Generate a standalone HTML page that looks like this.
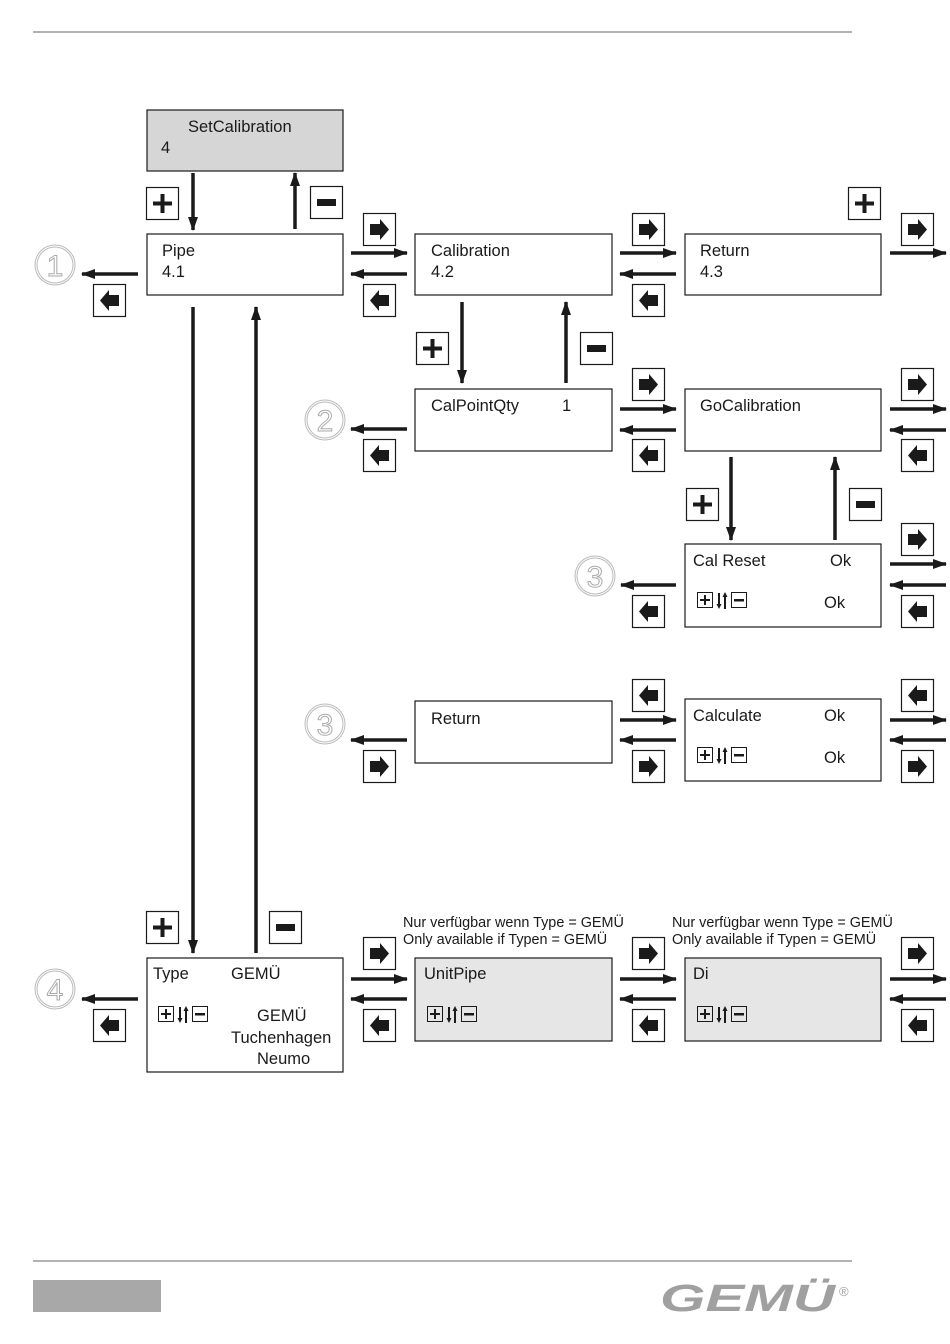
<!DOCTYPE html>
<html><head><meta charset="utf-8"><style>
html,body{margin:0;padding:0;background:#fff}
svg{display:block}
text{font-family:"Liberation Sans",sans-serif;fill:#1a1a1a}
</style></head><body>
<svg width="950" height="1344" viewBox="0 0 950 1344" xmlns="http://www.w3.org/2000/svg">
<defs>
<marker id="ah" markerUnits="userSpaceOnUse" markerWidth="14" markerHeight="10" refX="13" refY="5" orient="auto"><path d="M0,0 L14,5 L0,10 Z" fill="#1a1a1a"/></marker>
<g id="bR"><rect x="0.5" y="0.5" width="32" height="32" fill="#fff" stroke="#1a1a1a" stroke-width="1.2"/><path d="M7,11 H17 V6 L26,16.5 L17,27 V22 H7 Z" fill="#1a1a1a"/></g>
<g id="bL"><rect x="0.5" y="0.5" width="32" height="32" fill="#fff" stroke="#1a1a1a" stroke-width="1.2"/><path d="M26,11 H16 V6 L7,16.5 L16,27 V22 H26 Z" fill="#1a1a1a"/></g>
<g id="bP"><rect x="0.5" y="0.5" width="32" height="32" fill="#fff" stroke="#1a1a1a" stroke-width="1.2"/><path d="M7,14.5 H14.5 V7 H18.5 V14.5 H26 V18.5 H18.5 V26 H14.5 V18.5 H7 Z" fill="#1a1a1a"/></g>
<g id="bM"><rect x="0.5" y="0.5" width="32" height="32" fill="#fff" stroke="#1a1a1a" stroke-width="1.2"/><rect x="7" y="13" width="19" height="7" fill="#1a1a1a"/></g>
<g id="pm"><rect x="0.5" y="0.5" width="15" height="15" fill="none" stroke="#1a1a1a"/><path d="M3,7 H7 V3 H9 V7 H13 V9 H9 V13 H7 V9 H3 Z" fill="#1a1a1a"/>
<line x1="22" y1="1" x2="22" y2="13" stroke="#1a1a1a" stroke-width="2"/><path d="M19.5,12 L22,17 L24.5,12Z" fill="#1a1a1a"/>
<line x1="28" y1="4" x2="28" y2="17" stroke="#1a1a1a" stroke-width="2"/><path d="M25.5,5 L28,0 L30.5,5Z" fill="#1a1a1a"/>
<rect x="34.5" y="0.5" width="15" height="15" fill="none" stroke="#1a1a1a"/><rect x="37" y="7" width="10" height="2.5" fill="#1a1a1a"/></g>
</defs>
<g stroke="#999" stroke-width="1.5"><line x1="33" y1="32" x2="852" y2="32"/><line x1="33" y1="1261" x2="852" y2="1261"/></g>
<rect x="33" y="1280" width="128" height="32" fill="#a8a8a8"/>
<text x="660" y="1311" textLength="175" lengthAdjust="spacingAndGlyphs" style="font-size:38px;font-style:italic;font-weight:bold;fill:#a0a0a0">GEMÜ</text>
<text x="839" y="1296" style="font-size:13px;fill:#a0a0a0">®</text>

<g stroke="#1a1a1a" stroke-width="1.2">
<rect x="147" y="110" width="196" height="61" fill="#d6d6d6"/>
<rect x="147" y="234" width="196" height="61" fill="#fff"/>
<rect x="415" y="234" width="197" height="61" fill="#fff"/>
<rect x="685" y="234" width="196" height="61" fill="#fff"/>
<rect x="415" y="389" width="197" height="62" fill="#fff"/>
<rect x="685" y="389" width="196" height="62" fill="#fff"/>
<rect x="685" y="544" width="196" height="83" fill="#fff"/>
<rect x="415" y="701" width="197" height="62" fill="#fff"/>
<rect x="685" y="699" width="196" height="82" fill="#fff"/>
<rect x="147" y="958" width="196" height="114" fill="#fff"/>
<rect x="415" y="958" width="197" height="83" fill="#e6e6e6"/>
<rect x="685" y="958" width="196" height="83" fill="#e6e6e6"/>
</g>

<g style="font-size:16.5px">
<text x="188" y="132">SetCalibration</text><text x="161" y="153">4</text>
<text x="162" y="256">Pipe</text><text x="162" y="277">4.1</text>
<text x="431" y="256">Calibration</text><text x="431" y="277">4.2</text>
<text x="700" y="256">Return</text><text x="700" y="277">4.3</text>
<text x="431" y="411">CalPointQty</text><text x="562" y="411">1</text>
<text x="700" y="411">GoCalibration</text>
<text x="693" y="566">Cal Reset</text><text x="830" y="566">Ok</text><text x="824" y="608">Ok</text>
<text x="431" y="724">Return</text>
<text x="693" y="721">Calculate</text><text x="824" y="721">Ok</text><text x="824" y="763">Ok</text>
<text x="153" y="979">Type</text><text x="231" y="979">GEMÜ</text>
<text x="257" y="1021">GEMÜ</text><text x="231" y="1043">Tuchenhagen</text><text x="257" y="1064">Neumo</text>
<text x="424" y="979">UnitPipe</text>
<text x="693" y="979">Di</text>
</g>
<g style="font-size:14.4px">
<text x="403" y="927">Nur verfügbar wenn Type = GEMÜ</text><text x="403" y="944">Only available if Typen = GEMÜ</text>
<text x="672" y="927">Nur verfügbar wenn Type = GEMÜ</text><text x="672" y="944">Only available if Typen = GEMÜ</text>
</g>
<use href="#pm" x="697" y="592"/><use href="#pm" x="697" y="747"/>
<use href="#pm" x="158" y="1006"/><use href="#pm" x="427" y="1006"/><use href="#pm" x="697" y="1006"/>

<g fill="none" stroke="#bbb" stroke-width="1">
<circle cx="55" cy="265" r="20"/><circle cx="325" cy="420" r="20"/><circle cx="595" cy="576" r="20"/><circle cx="325" cy="724" r="20"/><circle cx="55" cy="989" r="20"/>
<circle cx="55" cy="265" r="18"/><circle cx="325" cy="420" r="18"/><circle cx="595" cy="576" r="18"/><circle cx="325" cy="724" r="18"/><circle cx="55" cy="989" r="18"/>
</g>
<g style="font-size:30px;stroke:#aaa;stroke-width:1" text-anchor="middle">
<text x="55" y="276" style="fill:#fff">1</text><text x="325" y="431" style="fill:#fff">2</text><text x="595" y="587" style="fill:#fff">3</text><text x="325" y="735" style="fill:#fff">3</text><text x="55" y="1000" style="fill:#fff">4</text>
</g>

<g stroke="#1a1a1a" stroke-width="3.5" marker-end="url(#ah)">
<line x1="193" y1="173" x2="193" y2="230"/><line x1="295" y1="229" x2="295" y2="173"/>
<line x1="193" y1="307" x2="193" y2="953"/><line x1="256" y1="953" x2="256" y2="307"/>
<line x1="462" y1="302" x2="462" y2="383"/><line x1="566" y1="383" x2="566" y2="302"/>
<line x1="731" y1="457" x2="731" y2="540"/><line x1="835" y1="540" x2="835" y2="457"/>
<line x1="138" y1="274" x2="82" y2="274"/>
<line x1="407" y1="429" x2="351" y2="429"/>
<line x1="676" y1="585" x2="621" y2="585"/>
<line x1="407" y1="740" x2="351" y2="740"/>
<line x1="138" y1="999" x2="82" y2="999"/>
<line x1="351" y1="253" x2="407" y2="253"/><line x1="407" y1="274" x2="351" y2="274"/>
<line x1="620" y1="253" x2="676" y2="253"/><line x1="676" y1="274" x2="620" y2="274"/>
<line x1="890" y1="253" x2="946" y2="253"/>
<line x1="620" y1="409" x2="676" y2="409"/><line x1="676" y1="430" x2="620" y2="430"/>
<line x1="890" y1="409" x2="946" y2="409"/><line x1="946" y1="430" x2="890" y2="430"/>
<line x1="890" y1="564" x2="946" y2="564"/><line x1="946" y1="585" x2="890" y2="585"/>
<line x1="620" y1="720" x2="676" y2="720"/><line x1="676" y1="740" x2="620" y2="740"/>
<line x1="890" y1="720" x2="946" y2="720"/><line x1="946" y1="740" x2="890" y2="740"/>
<line x1="351" y1="979" x2="407" y2="979"/><line x1="407" y1="999" x2="351" y2="999"/>
<line x1="620" y1="979" x2="676" y2="979"/><line x1="676" y1="999" x2="620" y2="999"/>
<line x1="890" y1="979" x2="946" y2="979"/><line x1="946" y1="999" x2="890" y2="999"/>
</g>

<use href="#bP" x="146" y="187"/><use href="#bM" x="310" y="186"/>
<use href="#bL" x="93" y="284"/>
<use href="#bR" x="363" y="213"/><use href="#bL" x="363" y="284"/>
<use href="#bR" x="632" y="213"/><use href="#bL" x="632" y="284"/>
<use href="#bP" x="848" y="187"/><use href="#bR" x="901" y="213"/>
<use href="#bP" x="416" y="332"/><use href="#bM" x="580" y="332"/>
<use href="#bL" x="363" y="439"/>
<use href="#bR" x="632" y="368"/><use href="#bL" x="632" y="439"/>
<use href="#bR" x="901" y="368"/><use href="#bL" x="901" y="439"/>
<use href="#bP" x="686" y="488"/><use href="#bM" x="849" y="488"/>
<use href="#bL" x="632" y="595"/>
<use href="#bR" x="901" y="523"/><use href="#bL" x="901" y="595"/>
<use href="#bR" x="363" y="750"/>
<use href="#bL" x="632" y="679"/><use href="#bR" x="632" y="750"/>
<use href="#bL" x="901" y="679"/><use href="#bR" x="901" y="750"/>
<use href="#bP" x="146" y="911"/><use href="#bM" x="269" y="911"/>
<use href="#bL" x="93" y="1009"/>
<use href="#bR" x="363" y="937"/><use href="#bL" x="363" y="1009"/>
<use href="#bR" x="632" y="937"/><use href="#bL" x="632" y="1009"/>
<use href="#bR" x="901" y="937"/><use href="#bL" x="901" y="1009"/>
</svg>
</body></html>
